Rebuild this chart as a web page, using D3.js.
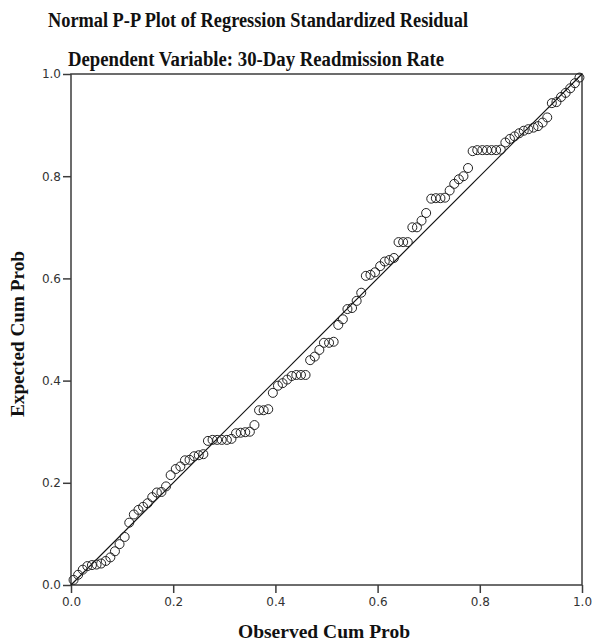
<!DOCTYPE html>
<html><head><meta charset="utf-8">
<script src="https://cdn.jsdelivr.net/npm/d3@7"></script>
<style>html,body{margin:0;padding:0;background:#fff;}svg{display:block;}</style>
</head><body>
<script>
const titleLines = ["Normal P-P Plot of Regression Standardized Residual", "Dependent Variable: 30-Day Readmission Rate"];
const xTitle = "Observed Cum Prob";
const yTitle = "Expected Cum Prob";
const tickValues = [0.0, 0.2, 0.4, 0.6, 0.8, 1.0];

const observed = [
0.005,0.014,0.023,0.032,0.041,0.050,0.059,0.068,0.077,0.086,
0.095,0.105,0.114,0.123,0.132,0.141,0.150,0.159,0.168,0.177,
0.186,0.195,0.205,0.214,0.223,0.232,0.241,0.250,0.259,0.268,
0.277,0.286,0.295,0.305,0.314,0.323,0.332,0.341,0.350,0.359,
0.368,0.377,0.386,0.395,0.405,0.414,0.423,0.432,0.441,0.450,
0.459,0.468,0.477,0.486,0.495,0.505,0.514,0.523,0.532,0.541,
0.550,0.559,0.568,0.577,0.586,0.595,0.605,0.614,0.623,0.632,
0.641,0.650,0.659,0.668,0.677,0.686,0.695,0.705,0.714,0.723,
0.732,0.741,0.750,0.759,0.768,0.777,0.786,0.795,0.805,0.814,
0.823,0.832,0.841,0.850,0.859,0.868,0.877,0.886,0.895,0.905,
0.914,0.923,0.932,0.941,0.950,0.959,0.968,0.977,0.986,0.995];

const expected = [
0.010,0.020,0.030,0.037,0.039,0.040,0.042,0.047,0.054,0.066,
0.080,0.094,0.122,0.138,0.147,0.153,0.160,0.172,0.181,0.182,
0.193,0.215,0.227,0.232,0.244,0.245,0.252,0.254,0.256,0.282,
0.284,0.284,0.284,0.284,0.286,0.297,0.298,0.299,0.300,0.313,
0.342,0.342,0.344,0.376,0.390,0.395,0.402,0.409,0.411,0.411,
0.411,0.440,0.447,0.460,0.474,0.474,0.476,0.509,0.520,0.540,
0.542,0.556,0.572,0.605,0.607,0.612,0.624,0.633,0.636,0.640,
0.671,0.671,0.671,0.700,0.700,0.713,0.728,0.756,0.757,0.757,
0.758,0.772,0.785,0.794,0.800,0.816,0.849,0.851,0.851,0.851,
0.851,0.851,0.852,0.866,0.873,0.878,0.884,0.889,0.892,0.895,
0.898,0.905,0.915,0.943,0.945,0.955,0.963,0.972,0.982,0.993];

const refLine = [[0,0],[1,1]];

const W = 592, H = 643;
const L = 71, R = 582, T = 74, B = 585;
const svg = d3.select("body").append("svg").attr("width", W).attr("height", H);

const x = d3.scaleLinear().domain([0,1]).range([L,R]);
const y = d3.scaleLinear().domain([0,1]).range([B,T]);

const serif = "'Liberation Serif','Times New Roman',serif";

svg.append("text").attr("x", 258).attr("y", 27).attr("text-anchor","middle")
  .attr("font-family", serif).attr("font-weight","bold").attr("font-size", 20)
  .attr("textLength", 420).attr("lengthAdjust","spacingAndGlyphs")
  .attr("fill","#111").text(titleLines[0]);
svg.append("text").attr("x", 256).attr("y", 66).attr("text-anchor","middle")
  .attr("font-family", serif).attr("font-weight","bold").attr("font-size", 20)
  .attr("textLength", 376).attr("lengthAdjust","spacingAndGlyphs")
  .attr("fill","#111").text(titleLines[1]);

// frame
svg.append("rect").attr("x", L).attr("y", T).attr("width", R-L).attr("height", B-T)
  .attr("fill","none").attr("stroke","#3c3c3c").attr("stroke-width",1.5);

const xAxis = d3.axisBottom(x).tickValues(tickValues).tickFormat(d3.format(".1f")).tickSize(8).tickPadding(4);
const yAxis = d3.axisLeft(y).tickValues(tickValues).tickFormat(d3.format(".1f")).tickSize(8).tickPadding(2);

const gx = svg.append("g").attr("transform",`translate(0,${B})`).call(xAxis);
const gy = svg.append("g").attr("transform",`translate(${L},0)`).call(yAxis);
[gx, gy].forEach(g => {
  g.select(".domain").remove();
  g.selectAll(".tick line").attr("stroke","#3c3c3c").attr("stroke-width",1.5);
  g.selectAll(".tick text").attr("font-family","'DejaVu Sans',sans-serif").attr("font-size",12).attr("fill","#333");
});

// reference line
svg.append("line")
  .attr("x1", x(refLine[0][0])).attr("y1", y(refLine[0][1]))
  .attr("x2", x(refLine[1][0])).attr("y2", y(refLine[1][1]))
  .attr("stroke","#111").attr("stroke-width",1.2);

// points
svg.append("g").selectAll("circle").data(observed.map((o,i)=>[o, expected[i]])).join("circle")
  .attr("cx", d => x(d[0])).attr("cy", d => y(d[1])).attr("r", 4.5)
  .attr("fill","none").attr("stroke","#222").attr("stroke-width",1);

svg.append("text").attr("x", 324).attr("y", 638).attr("text-anchor","middle")
  .attr("font-family", serif).attr("font-weight","bold").attr("font-size", 19)
  .attr("textLength", 172).attr("lengthAdjust","spacingAndGlyphs")
  .attr("fill","#111").text(xTitle);
svg.append("text").attr("transform","translate(24,334) rotate(-90)").attr("text-anchor","middle")
  .attr("font-family", serif).attr("font-weight","bold").attr("font-size", 19)
  .attr("textLength", 166).attr("lengthAdjust","spacingAndGlyphs")
  .attr("fill","#111").text(yTitle);
</script>
</body></html>
